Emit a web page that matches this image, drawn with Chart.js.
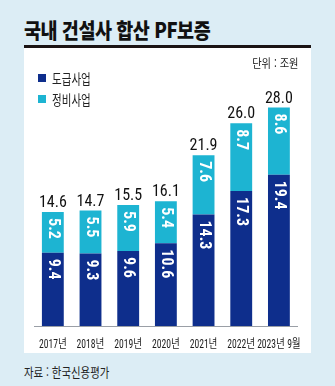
<!DOCTYPE html>
<html lang="ko">
<head>
<meta charset="utf-8">
<script src="https://cdn.jsdelivr.net/npm/chart.js@4/dist/chart.umd.min.js"></script>
<style>
  html, body { margin: 0; padding: 0; }
  body { width: 335px; height: 386px; background: #dcedf5; position: relative; overflow: hidden;
         font-family: "Noto Sans CJK KR", "Noto Sans", sans-serif; color: #1a1a1a; }
  .title { position: absolute; left: 24px; top: 17px; font-size: 21px; line-height: 24px; font-weight: 900;
           white-space: nowrap; transform: scaleX(0.88); transform-origin: left center; letter-spacing: -0.5px; color: #111; }
  .rule { position: absolute; left: 24px; top: 45px; width: 287px; height: 3px; background: #1b1414; }
  .panel { position: absolute; left: 24px; top: 48px; width: 287px; height: 305px; background: #ffffff; }
  .unit { position: absolute; right: 37px; top: 55px; font-size: 12.5px; line-height: 16px; white-space: nowrap;
          transform: scaleX(0.82); transform-origin: right center; color: #222; }
  .legend { position: absolute; left: 38px; top: 70px; }
  .legend div { position: relative; height: 21px; font-size: 13.5px; line-height: 16px; white-space: nowrap; }
  .legend i { position: absolute; left: 0; top: 4px; width: 8px; height: 8px; }
  .legend span { position: absolute; left: 14px; top: 0; display: inline-block; transform: scaleX(0.78); transform-origin: left center; color: #222; }
  .source { position: absolute; left: 24px; top: 364px; font-size: 13px; line-height: 16px; white-space: nowrap;
            transform: scaleX(0.8); transform-origin: left center; color: #222; }
  #wrap { position: absolute; left: 24px; top: 48px; width: 287px; height: 305px; }
</style>
</head>
<body>
<div class="title">국내 건설사 합산 PF보증</div>
<div class="rule"></div>
<div class="panel"></div>
<div id="wrap"><canvas id="c" width="287" height="305"></canvas></div>
<div class="unit">단위 : 조원</div>
<div class="legend" id="legend"></div>
<div class="source">자료 : 한국신용평가</div>

<script>
// 연도별 국내 건설사 PF보증 (단위: 조원)
const years = ['2017년', '2018년', '2019년', '2020년', '2021년', '2022년', '2023년 9월'];
const contractWork = [9.4, 9.3, 9.6, 10.6, 14.3, 17.3, 19.4];   // 도급사업
const renewalWork = [5.2, 5.5, 5.9, 5.4, 7.6, 8.7, 8.6];        // 정비사업
const totals = [14.6, 14.7, 15.5, 16.1, 21.9, 26.0, 28.0];     // 합계

const seriesNames = ['도급사업', '정비사업'];
const NAVY = '#0e2e8c';
const CYAN = '#1db4d2';
const NUM_FONT = '"Roboto Condensed", "DejaVu Sans Condensed", sans-serif';
const TICK_SQUEEZE = 0.8;   // horizontal squeeze of the year labels

// legend
const legendEl = document.getElementById('legend');
[[seriesNames[0], NAVY], [seriesNames[1], CYAN]].forEach(([name, color]) => {
  const row = document.createElement('div');
  row.innerHTML = `<i style="background:${color}"></i><span>${name}</span>`;
  legendEl.appendChild(row);
});

// narrow x-axis labels: draw the scale's own tick labels with a horizontal squeeze
const narrowTicks = {
  id: 'narrowTicks',
  beforeDraw(chart) {
    const sc = chart.scales.x;
    if (!sc || sc.__narrow) return;
    sc.__narrow = true;
    const getItems = sc.getLabelItems.bind(sc);
    const drawLabels = sc.drawLabels.bind(sc);
    sc._computeLabelArea = () => undefined;
    sc.getLabelItems = (area) => getItems(area).map(it => Object.assign({}, it, {
      options: Object.assign({}, it.options, {
        translation: [it.options.translation[0] / TICK_SQUEEZE, it.options.translation[1]]
      })
    }));
    sc.drawLabels = (area) => {
      sc.ctx.save();
      sc.ctx.scale(TICK_SQUEEZE, 1);
      drawLabels(area);
      sc.ctx.restore();
    };
  }
};

// value labels: rotated segment values and totals above each stack
const valueLabels = {
  id: 'valueLabels',
  afterDatasetsDraw(chart) {
    const ctx = chart.ctx;
    ctx.save();
    chart.data.datasets.forEach((ds, di) => {
      const meta = chart.getDatasetMeta(di);
      meta.data.forEach((bar, i) => {
        ctx.save();
        ctx.translate(bar.x, bar.y + 6);
        ctx.rotate(Math.PI / 2);
        ctx.fillStyle = '#ffffff';
        ctx.font = 'bold 16px ' + NUM_FONT;
        ctx.textAlign = 'left';
        ctx.textBaseline = 'middle';
        ctx.fillText(ds.data[i].toFixed(1), 0, 0);
        ctx.restore();
      });
    });
    const topMeta = chart.getDatasetMeta(chart.data.datasets.length - 1);
    ctx.fillStyle = '#111111';
    ctx.font = '16px ' + NUM_FONT;
    ctx.textAlign = 'center';
    ctx.textBaseline = 'alphabetic';
    topMeta.data.forEach((bar, i) => {
      ctx.fillText(totals[i].toFixed(1), bar.x, bar.y - 5);
    });
    ctx.restore();
  }
};

new Chart(document.getElementById('c'), {
  type: 'bar',
  data: {
    labels: years,
    datasets: [
      { label: seriesNames[0], data: contractWork, backgroundColor: NAVY },
      { label: seriesNames[1], data: renewalWork, backgroundColor: CYAN }
    ]
  },
  options: {
    responsive: false,
    animation: false,
    devicePixelRatio: 1,
    layout: { padding: { left: 10, right: 12, top: 44, bottom: 0 } },
    datasets: { bar: { barPercentage: 0.58, categoryPercentage: 1, borderWidth: 0 } },
    plugins: { legend: { display: false }, tooltip: { enabled: false } },
    scales: {
      x: {
        stacked: true,
        grid: { display: false },
        border: { display: true, color: '#9a9fa6', width: 1 },
        ticks: {
          color: '#1e1e1e',
          padding: 4,
          maxRotation: 0,
          autoSkip: false,
          font: { family: NUM_FONT + ', "Noto Sans CJK KR"', size: 12 }
        },
        afterFit(scale) { scale.height = 27; }
      },
      y: {
        stacked: true,
        display: false,
        min: 0,
        max: 30
      }
    }
  },
  plugins: [narrowTicks, valueLabels]
});
</script>
</body>
</html>
